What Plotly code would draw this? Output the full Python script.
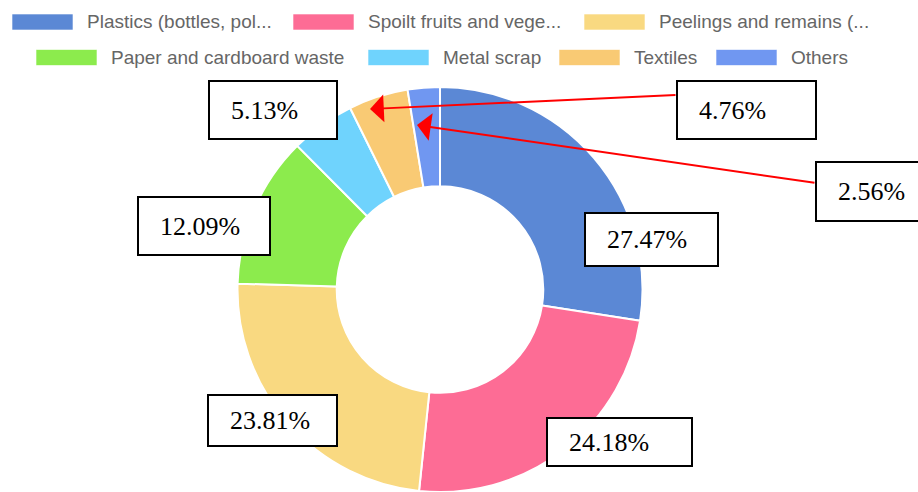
import plotly.graph_objects as go

W, H = 918, 492

# data
categories = ["Plastics (bottles, pol...", "Spoilt fruits and vege...", "Peelings and remains (...",
              "Paper and cardboard waste", "Metal scrap", "Textiles", "Others"]
shares = [27.47, 24.18, 23.81, 12.09, 5.13, 4.76, 2.56]
colors = ["#5b88d5", "#fd6c95", "#f9d981", "#8ceb4d", "#6fd3fd", "#f9ca74", "#7097f1"]

# layout helpers (pixels)
label_boxes = [(585, 213, 718, 266), (547, 418, 692, 466), (208, 395, 337, 446),
               (138, 197, 270, 255), (209, 81, 337, 139), (677, 81, 816, 139),
               (816, 162, 930, 221)]
arrows = {5: ((677, 95), (370, 109)), 6: ((816, 183), (417, 125))}
legend_pos = [(12, 22), (293, 22), (584, 22), (36, 57.5), (368, 57.5), (559, 57.5), (716, 57.5)]


def fx(x):
    return x / W


def fy(y):
    return 1 - y / H


fig = go.Figure()
fig.add_trace(go.Pie(
    labels=categories,
    values=shares,
    hole=0.51,
    sort=False,
    direction='clockwise',
    rotation=0,
    textinfo='none',
    hoverinfo='label+percent',
    marker=dict(colors=colors, line=dict(color='white', width=2)),
    domain=dict(x=[fx(237.5), fx(642.5)], y=[0, fy(87)]),
    showlegend=False,
))

shapes = []
annotations = []

# legend (chart.js style)
for name, col, (bx, cy) in zip(categories, colors, legend_pos):
    shapes.append(dict(type='rect', xref='paper', yref='paper',
                       x0=fx(bx), x1=fx(bx + 61), y0=fy(cy - 8), y1=fy(cy + 8),
                       fillcolor=col, line=dict(color='rgba(255,255,255,0.6)', width=1)))
    annotations.append(dict(text=name, xref='paper', yref='paper', x=fx(bx + 73), y=fy(cy),
                            xanchor='left', yanchor='middle', showarrow=False,
                            font=dict(family='Liberation Sans, Arial', size=19, color='#666')))

# percentage boxes
for v, (x0, y0, x1, y1) in zip(shares, label_boxes):
    shapes.append(dict(type='rect', xref='paper', yref='paper',
                       x0=fx(x0), x1=fx(x1), y0=fy(y1), y1=fy(y0),
                       fillcolor='white', line=dict(color='black', width=2)))
    annotations.append(dict(text=f"{v:.2f}%", xref='paper', yref='paper',
                            x=fx(x0 + 20), y=fy((y0 + y1) / 2),
                            xanchor='left', yanchor='middle', showarrow=False,
                            font=dict(family='Liberation Serif, Times New Roman', size=26, color='black')))

# red arrows for small slices
for i, ((tx, ty), (hx, hy)) in arrows.items():
    annotations.append(dict(text='', xref='paper', yref='paper', x=fx(hx), y=fy(hy),
                            ax=tx - hx, ay=ty - hy, axref='pixel', ayref='pixel',
                            showarrow=True, arrowhead=1, arrowsize=2.3, arrowwidth=2,
                            arrowcolor='red', standoff=0))

fig.update_layout(
    width=W, height=H,
    margin=dict(l=0, r=0, t=0, b=0),
    paper_bgcolor='white',
    plot_bgcolor='white',
    shapes=shapes,
    annotations=annotations,
)

# drop the default page margin so the figure sits at the window origin
fig.write_html("out.html", config={'displayModeBar': False},
               post_script="document.body.style.margin='0';")
